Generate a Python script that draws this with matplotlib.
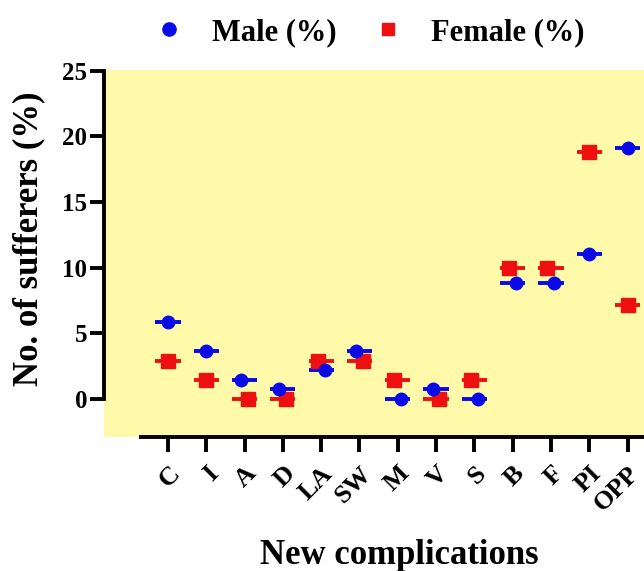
import numpy as np
import matplotlib
matplotlib.use('Agg')
import matplotlib.pyplot as plt
from matplotlib.lines import Line2D

plt.rcParams['font.family'] = ['Liberation Serif', 'DejaVu Serif']
plt.rcParams['font.weight'] = 'bold'

categories = ['C', 'I', 'A', 'D', 'LA', 'SW', 'M', 'V', 'S', 'B', 'F', 'PI', 'OPP']
male = [5.88, 3.68, 1.47, 0.74, 2.21, 3.68, 0.0, 0.74, 0.0, 8.82, 8.82, 11.03, 19.12]
female = [2.86, 1.43, 0.0, 0.0, 2.86, 2.86, 1.43, 0.0, 1.43, 10.0, 10.0, 18.8, 7.14]

blue = '#0A0AE6'
red = '#EE1010'
yellow = '#FFFAAA'

fig = plt.figure(figsize=(6.44, 5.71), dpi=100)
ax = fig.add_axes([104/644, 134/571, 540/644, 367/571])
ax.set_facecolor(yellow)

x = np.arange(len(categories))
m = np.array(male)
f = np.array(female)
# prism-like dodge when the two points sit close together
close = np.abs(m - f) < 1.6
dodge = 0.09
m_x = x + np.where(close, np.where(m >= f, -dodge, dodge), 0)
f_x = x + np.where(close, np.where(f > m, -dodge, dodge), 0)

half = 0.33
ax.hlines(m, x - half, x + half, color=blue, lw=2.8, zorder=3)
ax.hlines(f, x - half, x + half, color=red, lw=2.8, zorder=3)
ax.plot(f_x, f, 's', color=red, ms=9.5, zorder=4, ls='none')
ax.plot(m_x, m, 'o', color=blue, ms=9, zorder=5, ls='none')

ax.set_xlim(-1.67, 12.43)
ax.set_ylim(-2.9, 25.05)

for s in ['top', 'right']:
    ax.spines[s].set_visible(False)
ax.spines['left'].set_bounds(0, 25)
ax.spines['bottom'].set_bounds(-0.7, 13)
ax.spines['left'].set_linewidth(2.8)
ax.spines['bottom'].set_linewidth(2.8)

ax.set_yticks([0, 5, 10, 15, 20, 25])
ax.set_xticks(x)
ax.set_xticklabels(categories, rotation=45, ha='right', rotation_mode='anchor')
ax.tick_params(axis='y', length=10, width=2.8, labelsize=18, pad=2)
ax.tick_params(axis='x', length=11, width=2.8, labelsize=19, pad=7)
for lab in ax.get_xticklabels() + ax.get_yticklabels():
    lab.set_fontweight('bold')

ax.set_ylabel('No. of sufferers (%)', fontsize=25, fontweight='bold')
ax.yaxis.set_label_coords(-0.108, 0.54)
ax.set_xlabel('New complications', fontsize=25, fontweight='bold')
ax.xaxis.label.set_va('baseline')
ax.xaxis.set_label_coords(0.546, -0.345)

handles = [Line2D([], [], marker='o', color=blue, ls='none', ms=9.5),
           Line2D([], [], marker='s', color=red, ls='none', ms=9)]
fig.legend(handles, ['Male (%)', 'Female (%)'], loc='center', ncol=2,
           bbox_to_anchor=(0.573, 0.943), frameon=False,
           prop={'size': 22, 'weight': 'bold'},
           handlelength=1.0, handletextpad=0.9, columnspacing=1.2)

fig.savefig('out.png', dpi=100)
